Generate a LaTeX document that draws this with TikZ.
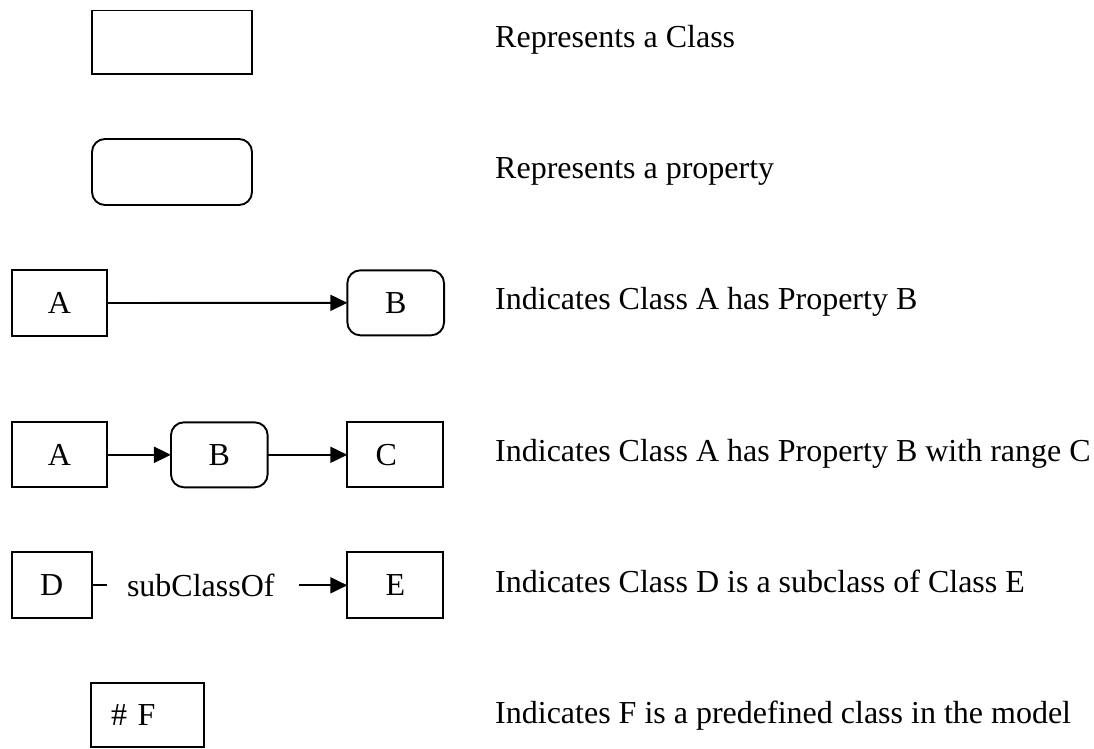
\documentclass[tikz,border=0pt]{standalone}
\usepackage{fontspec}
\setmainfont{Liberation Serif}
\usetikzlibrary{arrows.meta}
\begin{document}
\begin{tikzpicture}[x=1pt,y=-1pt,
  every node/.style={font=\fontsize{32}{38}\selectfont},
  classbox/.style={draw, line width=1.9pt, rectangle, inner sep=0pt, outer sep=0pt},
  propbox/.style={classbox, rounded corners=13pt},
  note/.style={anchor=base west, inner sep=0pt},
  link/.style={line width=1.9pt, -{Triangle[length=17pt,width=16pt]}},
  stub/.style={line width=1.9pt}]
\useasboundingbox (0,0) rectangle (1094,748);

% legend shapes
\node[classbox, minimum width=160pt, minimum height=63.5pt] (cls) at (172,42.25) {};
\node[propbox, minimum width=160pt, minimum height=66pt] (prop) at (172,172) {};

% class has property
\node[classbox, minimum width=95.6pt, minimum height=65.7pt] (a3) at (59.5,303) {A};
\node[propbox, minimum width=96.7pt, minimum height=65pt] (b3) at (395.7,302.8) {B};
\draw[link] (a3) -- (b3);

% property with range
\node[classbox, minimum width=95.6pt, minimum height=65pt] (a4) at (59.5,454.8) {A};
\node[propbox, minimum width=96.7pt, minimum height=65pt] (b4) at (219.3,454.8) {B};
\node[classbox, minimum width=96pt, minimum height=65pt,
      label={[xshift=-9pt]center:C}] (c4) at (395.3,454.8) {};
\draw[link] (a4) -- (b4);
\draw[link] (b4) -- (c4);

% subclass relation
\node[classbox, minimum width=80pt, minimum height=66pt] (d5) at (51.7,585.3) {D};
\node[classbox, minimum width=96pt, minimum height=66pt] (e5) at (395.3,585.3) {E};
\coordinate (dstub) at (106.7,585.3);
\coordinate (sstart) at (299.3,585.3);
\node[inner sep=0pt] (sub) at (200.8,585.3) {subClassOf};
\draw[stub] (d5.east) -- (dstub);
\draw[link] (sstart) -- (e5.west);

% predefined class
\node[classbox, minimum height=64pt, text width=73pt, align=left, inner xsep=20pt] (f6) at (147.5,714.7) {\# F};

% descriptions
\node[note] (t1) at (495,47.8) {Represents a Class};
\node[note] (t2) at (495,178.5) {Represents a property};
\node[note] (t3) at (495,309.3) {Indicates Class A has Property B};
\node[note] (t4) at (495,461.5) {Indicates Class A has Property B with range C};
\node[note] (t5) at (495,592.5) {Indicates Class D is a subclass of Class E};
\node[note] (t6) at (495,723) {Indicates F is a predefined class in the model};
\end{tikzpicture}
\end{document}
